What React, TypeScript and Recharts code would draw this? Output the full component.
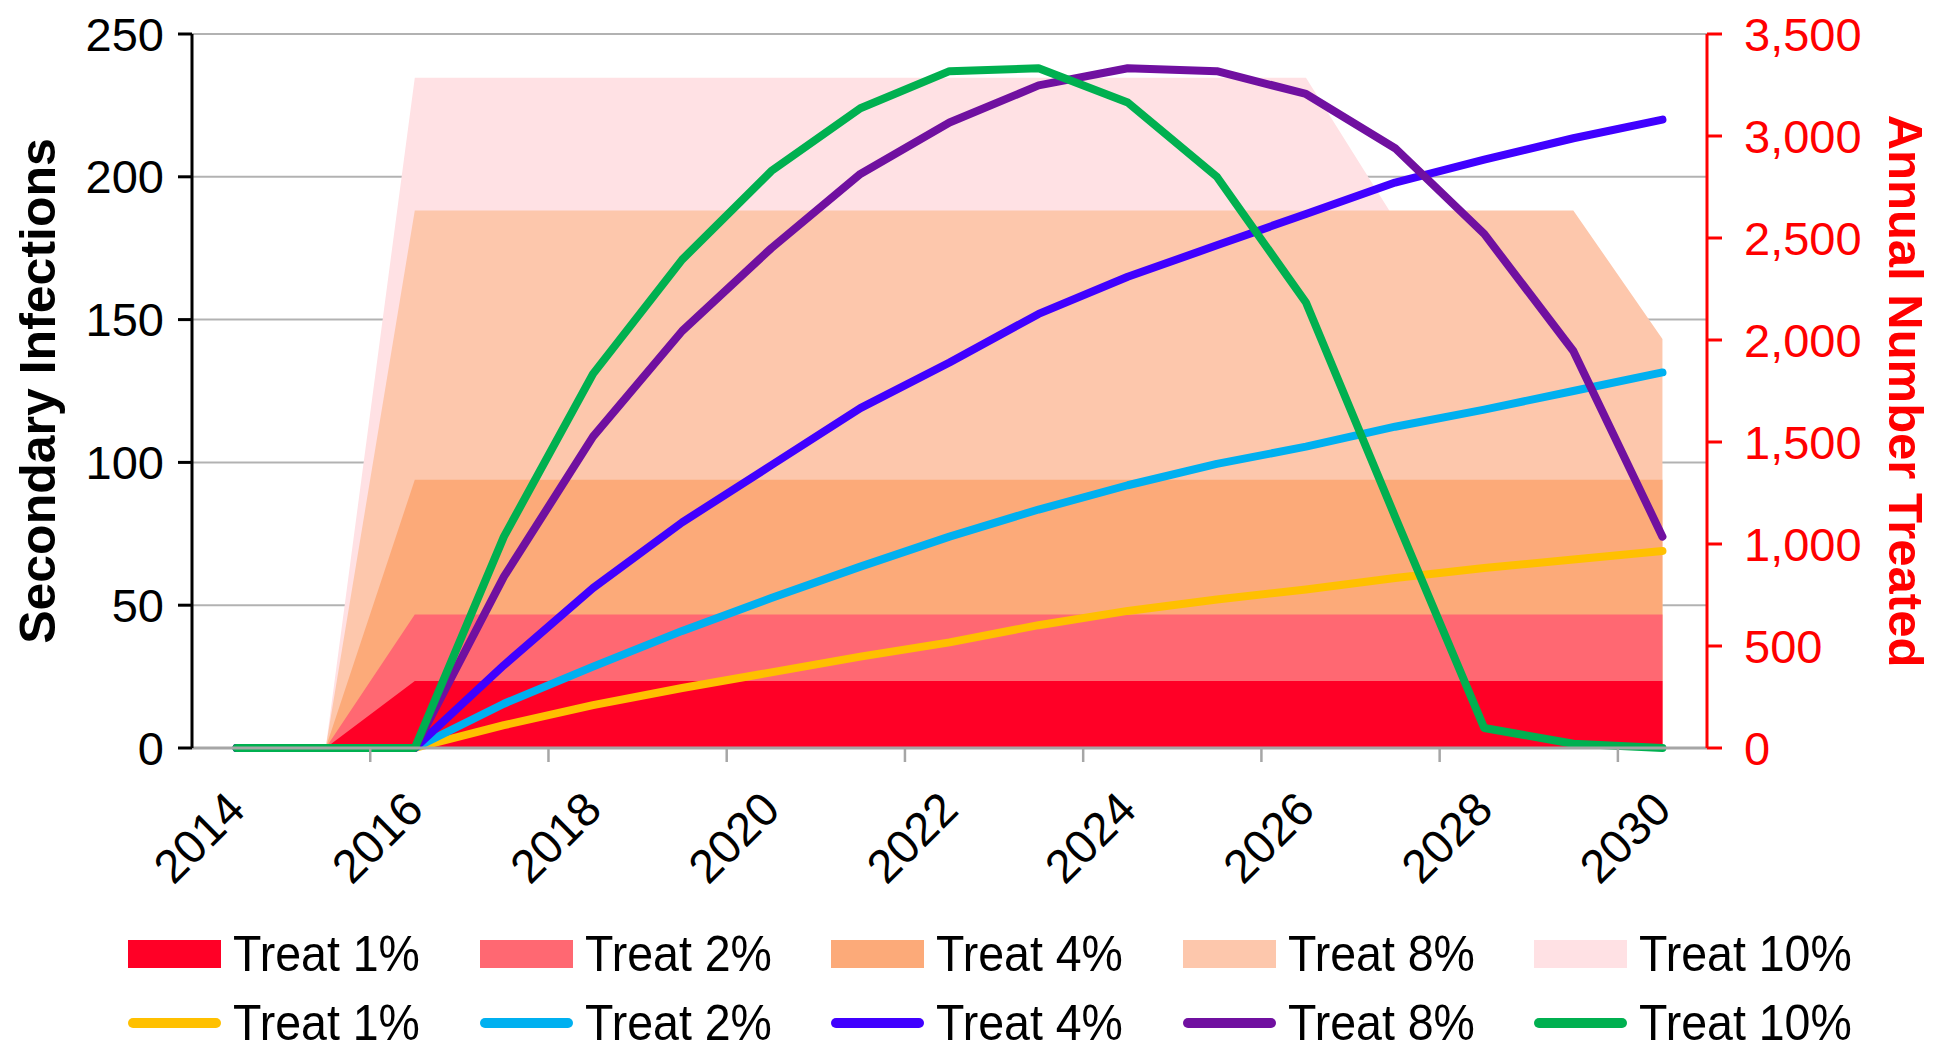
import React from "react";
import { Area, CartesianGrid, ComposedChart, Line, XAxis, YAxis } from "recharts";

// Annual number treated (right axis) as overlapping areas, secondary
// infections (left axis) as lines, one of each per treatment rate.

const years = [2014, 2015, 2016, 2017, 2018, 2019, 2020, 2021, 2022, 2023, 2024, 2025, 2026, 2027, 2028, 2029, 2030];
const labelYears = [2014, 2016, 2018, 2020, 2022, 2024, 2026, 2028, 2030];
const tickMarkYears = [2015.5, 2017.5, 2019.5, 2021.5, 2023.5, 2025.5, 2027.5, 2029.5];
const leftTicks = [0, 50, 100, 150, 200, 250];
const rightTicks = [0, 500, 1000, 1500, 2000, 2500, 3000, 3500];

// Annual number treated
const treated1 = [0, 0, 328, 328, 328, 328, 328, 328, 328, 328, 328, 328, 328, 328, 328, 328, 328];
const treated2 = [0, 0, 655, 655, 655, 655, 655, 655, 655, 655, 655, 655, 655, 655, 655, 655, 655];
const treated4 = [0, 0, 1315, 1315, 1315, 1315, 1315, 1315, 1315, 1315, 1315, 1315, 1315, 1315, 1315, 1315, 1315];
const treated8 = [0, 0, 2635, 2635, 2635, 2635, 2635, 2635, 2635, 2635, 2635, 2635, 2635, 2635, 2635, 2635, 2005];
const treated10 = [0, 0, 3285, 3285, 3285, 3285, 3285, 3285, 3285, 3285, 3285, 3285, 3285, 2590, 1900, 1200, 500];

// Secondary infections
const infections1 = [0, 0, 0, 8, 15, 21, 26.5, 32, 37, 43, 48, 52, 55.5, 59.5, 63, 66, 69];
const infections2 = [0, 0, 0, 15.5, 28.5, 41, 52.5, 63.5, 74, 83.5, 92, 99.5, 105.5, 112.5, 118.5, 125, 131.5];
const infections4 = [0, 0, 0, 29, 56, 79, 99, 119, 135, 152, 165, 176, 187, 198, 206, 213.5, 220];
const infections8 = [0, 0, 0, 60, 109, 146, 175, 201, 219, 232, 238, 237, 229, 210, 180, 139, 74];
const infections10 = [0, 0, 0, 74, 131, 171, 202, 224, 237, 238, 226, 200, 156, 81, 7, 1.5, 0];

const areaSeries = [
    { key: "t1", name: "Treat 1%", color: "#FF0026", values: treated1 },
    { key: "t2", name: "Treat 2%", color: "#FF6872", values: treated2 },
    { key: "t4", name: "Treat 4%", color: "#FCAA79", values: treated4 },
    { key: "t8", name: "Treat 8%", color: "#FDC7AC", values: treated8 },
    { key: "t10", name: "Treat 10%", color: "#FFE1E4", values: treated10 },
];

const lineSeries = [
    { key: "i1", name: "Treat 1%", color: "#FFC000", values: infections1 },
    { key: "i2", name: "Treat 2%", color: "#00B0F0", values: infections2 },
    { key: "i4", name: "Treat 4%", color: "#4000FF", values: infections4 },
    { key: "i8", name: "Treat 8%", color: "#7010A0", values: infections8 },
    { key: "i10", name: "Treat 10%", color: "#00B050", values: infections10 },
];

const data = years.map((year, i) => {
    const row: Record<string, number> = { year };
    areaSeries.forEach((s) => (row[s.key] = s.values[i]));
    lineSeries.forEach((s) => (row[s.key] = s.values[i]));
    return row;
});

const xTicks = [...labelYears, ...tickMarkYears].sort((a, b) => a - b);

const FONT = '"Liberation Sans", Arial, sans-serif';

function XTick(props: any) {
    const { x, y, payload } = props;
    const v = payload.value as number;
    if (!Number.isInteger(v)) {
        // Excel-style tick mark between categories
        return <line x1={x} x2={x} y1={y - 14} y2={y} stroke="#A6A6A6" strokeWidth={2.5} />;
    }
    const ax = x + 11;
    const ay = y + 50;
    return (
        <text
            x={ax}
            y={ay}
            transform={`rotate(-45 ${ax} ${ay})`}
            textAnchor="end"
            fontSize={47}
            fill="#000"
        >
            {v}
        </text>
    );
}

function LeftTitle(props: any) {
    const vb = props.viewBox;
    const cx = vb.x + 38;
    const cy = vb.y + vb.height / 2;
    return (
        <text
            x={cx}
            y={cy}
            transform={`rotate(-90 ${cx} ${cy})`}
            textAnchor="middle"
            dominantBaseline="central"
            fontSize={50}
            fontWeight="bold"
            fill="#000"
        >
            Secondary Infections
        </text>
    );
}

function RightTitle(props: any) {
    const vb = props.viewBox;
    const cx = vb.x + 199;
    const cy = vb.y + vb.height / 2;
    return (
        <text
            x={cx}
            y={cy}
            transform={`rotate(90 ${cx} ${cy})`}
            textAnchor="middle"
            dominantBaseline="central"
            fontSize={49}
            fontWeight="bold"
            fill="#FF0000"
        >
            Annual Number Treated
        </text>
    );
}

function LegendRow({ items, kind, top }: { items: typeof areaSeries; kind: "area" | "line"; top: number }) {
    return (
        <div style={{ position: "absolute", left: 128, top, height: 46, display: "flex" }}>
            {items.map((s) => (
                <div key={s.key} style={{ width: 351.5, height: 46, display: "flex", alignItems: "center" }}>
                    {kind === "area" ? (
                        <div style={{ width: 93, height: 28, background: s.color }} />
                    ) : (
                        <div style={{ width: 93, height: 10, borderRadius: 5, background: s.color }} />
                    )}
                    <span
                        style={{
                            marginLeft: 12,
                            fontSize: 50,
                            lineHeight: "46px",
                            height: 46,
                            display: "inline-block",
                            transform: "scaleX(0.93)",
                            transformOrigin: "left center",
                            whiteSpace: "nowrap",
                        }}
                    >
                        {s.name}
                    </span>
                </div>
            ))}
        </div>
    );
}

export default function App() {
    return (
        <div
            style={{
                position: "absolute",
                left: 0,
                top: 0,
                width: 1945,
                height: 1051,
                background: "#fff",
                fontFamily: FONT,
                overflow: "hidden",
            }}
        >
            <ComposedChart width={1945} height={900} data={data} margin={{ top: 34, right: 0, bottom: 0, left: 0 }}>
                <XAxis
                    type="number"
                    dataKey="year"
                    domain={[2013.5, 2030.5]}
                    ticks={xTicks}
                    interval={0}
                    tickLine={false}
                    tickSize={14}
                    tickMargin={0}
                    tick={<XTick />}
                    axisLine={{ stroke: "#A6A6A6", strokeWidth: 3 }}
                    height={152}
                />
                <YAxis
                    yAxisId="left"
                    domain={[0, 250]}
                    ticks={leftTicks}
                    interval={0}
                    width={192}
                    tickSize={14}
                    tickMargin={14}
                    axisLine={{ stroke: "#000", strokeWidth: 3 }}
                    tickLine={{ stroke: "#000", strokeWidth: 3 }}
                    tick={{ fontSize: 47, fill: "#000" }}
                    label={{ content: <LeftTitle /> }}
                />
                <YAxis
                    yAxisId="right"
                    orientation="right"
                    domain={[0, 3500]}
                    ticks={rightTicks}
                    interval={0}
                    width={238}
                    tickSize={15}
                    tickMargin={22}
                    axisLine={{ stroke: "#FF0000", strokeWidth: 3 }}
                    tickLine={{ stroke: "#FF0000", strokeWidth: 3 }}
                    tick={{ fontSize: 47, fill: "#FF0000" }}
                    tickFormatter={(v: number) => v.toLocaleString("en-US")}
                    label={{ content: <RightTitle /> }}
                />
                {[...areaSeries].reverse().map((s) => (
                    <Area
                        key={s.key}
                        yAxisId="right"
                        type="linear"
                        dataKey={s.key}
                        name={s.name}
                        fill={s.color}
                        fillOpacity={1}
                        stroke="none"
                        isAnimationActive={false}
                    />
                ))}
                <CartesianGrid
                    yAxisId="left"
                    vertical={false}
                    stroke="rgba(0,0,0,0.3)"
                    strokeWidth={2}
                />
                {lineSeries.map((s) => (
                    <Line
                        key={s.key}
                        yAxisId="left"
                        type="linear"
                        dataKey={s.key}
                        name={s.name}
                        stroke={s.color}
                        strokeWidth={8}
                        strokeLinecap="round"
                        strokeLinejoin="round"
                        dot={false}
                        activeDot={false}
                        isAnimationActive={false}
                    />
                ))}
            </ComposedChart>
            <LegendRow items={areaSeries} kind="area" top={931} />
            <LegendRow items={lineSeries} kind="line" top={1000} />
        </div>
    );
}
